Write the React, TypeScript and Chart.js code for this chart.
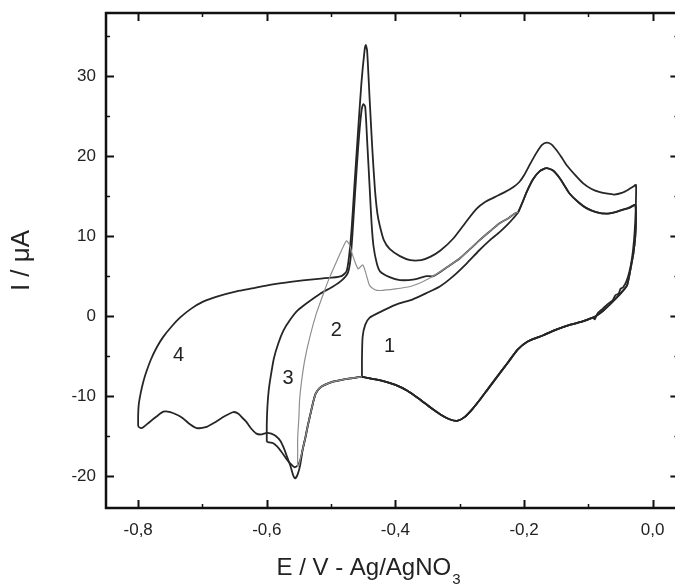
import { useEffect, useRef } from 'react';
import { Chart, registerables } from 'chart.js';

Chart.register(...registerables);

const FONT = '"Liberation Sans", Arial, Helvetica, sans-serif';

type Pt = [number, number];

// ---- data (E in V, I in µA) ----
const curve1Rise: Pt[] = [
  [-0.452, -7.6], [-0.452, -5.3], [-0.451, -2.6], [-0.447, -1.1], [-0.44, -0.2], [-0.424, 0.5],
  [-0.4, 1.4], [-0.373, 2.1], [-0.351, 2.9], [-0.331, 3.7], [-0.31, 5.0], [-0.289, 6.6],
  [-0.27, 8.2], [-0.253, 9.5], [-0.238, 10.5], [-0.225, 11.5], [-0.217, 12.2],
];

const lowerHump: Pt[] = [
  [-0.209, 13.0], [-0.202, 14.3], [-0.196, 15.5], [-0.186, 17.1], [-0.176, 18.1], [-0.165, 18.5],
  [-0.155, 18.2], [-0.145, 17.3], [-0.137, 16.3], [-0.129, 15.3], [-0.115, 14.2], [-0.103, 13.5],
  [-0.088, 13.0], [-0.072, 12.8], [-0.058, 13.0], [-0.046, 13.3], [-0.035, 13.6], [-0.027, 13.9],
];

const lowerDescent: Pt[] = [
  [-0.026, 12.0], [-0.027, 10.0], [-0.03, 7.8], [-0.033, 6.5], [-0.036, 5.2], [-0.04, 3.8],
  [-0.048, 3.0], [-0.056, 2.3], [-0.066, 1.5], [-0.078, 0.6], [-0.088, 0.0],
];

const cathodicSweep: Pt[] = [
  [-0.093, -0.2], [-0.11, -0.7], [-0.129, -1.1], [-0.15, -1.7], [-0.17, -2.4], [-0.195, -3.2],
  [-0.21, -4.2], [-0.225, -5.8], [-0.242, -7.6], [-0.256, -9.1], [-0.269, -10.5], [-0.28, -11.6],
  [-0.292, -12.6], [-0.304, -13.1], [-0.316, -12.9], [-0.33, -12.3], [-0.346, -11.4], [-0.364, -10.3],
  [-0.382, -9.3], [-0.4, -8.6], [-0.42, -8.1], [-0.44, -7.8], [-0.452, -7.6],
];

const depositionDrop: Pt[] = [
  [-0.47, -7.8], [-0.485, -8.0], [-0.497, -8.2], [-0.51, -8.6], [-0.518, -9.0], [-0.524, -9.7],
  [-0.528, -10.8], [-0.532, -12.2], [-0.536, -13.6], [-0.54, -15.2], [-0.544, -16.6],
];

const curve2Loop: Pt[] = [
  [-0.547, -17.6], [-0.55, -18.6], [-0.552, -18.8], [-0.552, -17.0], [-0.552, -15.3], [-0.55, -12.5],
  [-0.549, -10.5], [-0.546, -8.2], [-0.541, -5.5], [-0.533, -2.6], [-0.523, 0.3], [-0.512, 2.8],
  [-0.502, 4.9], [-0.49, 7.1], [-0.481, 8.7], [-0.476, 9.4], [-0.472, 9.0], [-0.468, 8.0],
  [-0.463, 6.8], [-0.458, 5.9], [-0.455, 6.1], [-0.451, 6.4], [-0.448, 5.9], [-0.444, 4.8],
  [-0.44, 3.8], [-0.432, 3.3], [-0.424, 3.2], [-0.4, 3.4], [-0.377, 3.7], [-0.36, 4.2],
];

const middleRise: Pt[] = [
  [-0.341, 5.0], [-0.32, 6.1], [-0.3, 7.2], [-0.285, 8.3], [-0.269, 9.5], [-0.253, 10.6],
  [-0.238, 11.6], [-0.225, 12.2], [-0.215, 12.8], [-0.209, 13.0],
];

const curve3Rise: Pt[] = [
  [-0.6, -15.7], [-0.6, -13.5], [-0.599, -11.3], [-0.597, -9.3], [-0.594, -7.6], [-0.589, -5.3],
  [-0.582, -3.4], [-0.574, -1.8], [-0.564, -0.5], [-0.552, 0.7], [-0.538, 1.6], [-0.517, 2.8],
  [-0.497, 3.7], [-0.483, 4.5], [-0.474, 5.4], [-0.47, 7.0], [-0.467, 10.0], [-0.463, 15.0],
  [-0.458, 21.0], [-0.453, 25.5], [-0.45, 26.5], [-0.447, 26.2], [-0.444, 22.0], [-0.44, 16.0],
  [-0.437, 11.5], [-0.434, 8.7], [-0.429, 6.6], [-0.424, 5.6], [-0.41, 4.9], [-0.393, 4.5],
  [-0.37, 4.6], [-0.352, 5.0],
];

const curve3Bottom: Pt[] = [
  [-0.548, -18.0], [-0.552, -18.7], [-0.557, -18.9], [-0.564, -18.4], [-0.57, -17.8], [-0.577, -17.0],
  [-0.584, -16.3], [-0.59, -15.9], [-0.596, -15.8], [-0.6, -15.7],
];

const curve4Rise: Pt[] = [
  [-0.8, -13.8], [-0.8, -12.4], [-0.799, -11.0], [-0.796, -9.6], [-0.792, -8.2], [-0.787, -6.9],
  [-0.78, -5.4], [-0.771, -3.9], [-0.761, -2.6], [-0.748, -1.3], [-0.735, -0.2], [-0.718, 0.9],
  [-0.699, 1.8], [-0.675, 2.5], [-0.647, 3.1], [-0.62, 3.5], [-0.595, 3.9], [-0.56, 4.3],
  [-0.528, 4.6], [-0.5, 4.8], [-0.484, 5.0], [-0.476, 5.6], [-0.472, 7.5], [-0.468, 11.0],
  [-0.464, 16.0], [-0.459, 22.0], [-0.453, 29.0], [-0.448, 33.2], [-0.446, 33.9], [-0.444, 33.2],
  [-0.44, 27.0], [-0.436, 21.0], [-0.432, 16.0], [-0.428, 12.8], [-0.424, 11.2], [-0.418, 9.5],
  [-0.409, 8.4], [-0.393, 7.5], [-0.377, 7.0], [-0.36, 7.0], [-0.346, 7.4], [-0.33, 8.2],
  [-0.31, 9.7], [-0.29, 11.8], [-0.274, 13.4], [-0.26, 14.3], [-0.245, 14.9], [-0.23, 15.5],
  [-0.217, 16.1], [-0.207, 16.8], [-0.2, 17.6], [-0.19, 19.1], [-0.18, 20.5], [-0.172, 21.4],
  [-0.165, 21.7], [-0.158, 21.5], [-0.15, 20.8], [-0.142, 19.9], [-0.134, 18.9], [-0.12, 17.6],
  [-0.108, 16.6], [-0.095, 15.9], [-0.082, 15.5], [-0.07, 15.3], [-0.06, 15.2], [-0.048, 15.4],
  [-0.038, 15.8], [-0.03, 16.2], [-0.026, 16.4],
];

const upperDescent: Pt[] = [
  [-0.026, 14.5], [-0.027, 12.0], [-0.029, 9.5], [-0.032, 7.3], [-0.036, 5.6], [-0.041, 4.3],
  [-0.046, 3.6], [-0.05, 3.4], [-0.053, 2.8], [-0.058, 2.6], [-0.062, 2.0], [-0.07, 1.5],
  [-0.078, 0.9], [-0.086, 0.3], [-0.09, -0.4],
];

const curve4Bottom: Pt[] = [
  [-0.548, -18.6], [-0.552, -19.8], [-0.556, -20.3], [-0.559, -19.9], [-0.563, -18.8], [-0.568, -17.7],
  [-0.573, -16.6], [-0.579, -15.6], [-0.586, -15.0], [-0.593, -14.7], [-0.6, -14.6], [-0.608, -14.8],
  [-0.616, -14.7], [-0.625, -14.0], [-0.632, -13.2], [-0.637, -12.8], [-0.644, -12.2], [-0.652, -12.0],
  [-0.665, -12.5], [-0.683, -13.4], [-0.695, -13.9], [-0.709, -14.0], [-0.72, -13.5], [-0.73, -12.8],
  [-0.738, -12.4], [-0.75, -12.0], [-0.761, -11.95], [-0.772, -12.6], [-0.783, -13.3], [-0.792, -13.9],
  [-0.796, -14.0], [-0.8, -13.8],
];

const curveNames = ['1', '2', '3', '4'];
const curveLabelE = [-0.409, -0.492, -0.567, -0.737];
const curveLabelI = [-3.8, -1.75, -7.8, -4.9];

const xMajorTicks = [-0.8, -0.6, -0.4, -0.2, 0.0];
const xMinorTicks = [-0.7, -0.5, -0.3, -0.1];
const yMajorTicks = [-20, -10, 0, 10, 20, 30];
const yMinorTicks = [-15, -5, 5, 15, 25, 35];

// assembled cycles
const curve1: Pt[] = [...curve1Rise, ...lowerHump, ...lowerDescent, ...cathodicSweep];
const curve2: Pt[] = [[-0.452, -7.6], ...depositionDrop, ...curve2Loop, ...middleRise];
const curve3: Pt[] = [
  ...curve3Rise, ...middleRise, ...lowerHump, ...lowerDescent, ...cathodicSweep,
  ...depositionDrop, ...curve3Bottom,
];
const curve4: Pt[] = [
  ...curve4Rise, ...upperDescent, ...cathodicSweep, ...depositionDrop, ...curve4Bottom,
];

const toXY = (pts: Pt[]) => pts.map(([x, y]) => ({ x, y }));

const DARK = '#262626';
const GRAY = '#8f8f8f';
const TEXT = '#222';

export default function App() {
  const ref = useRef<HTMLCanvasElement>(null);

  useEffect(() => {
    const canvas = ref.current;
    if (!canvas) return;

    const decor = {
      id: 'decor',
      afterDraw(chart: any) {
        const { ctx, chartArea: a, scales } = chart;
        const xs = scales.x;
        const ys = scales.y;
        ctx.save();
        ctx.strokeStyle = '#111';
        ctx.lineWidth = 2.5;
        ctx.strokeRect(a.left, a.top, a.right - a.left, a.bottom - a.top);

        const tick = (len: number, w: number, xv: number[], yv: number[]) => {
          ctx.lineWidth = w;
          ctx.beginPath();
          xv.forEach((v) => {
            const px = Math.round(xs.getPixelForValue(v)) + 0.5;
            ctx.moveTo(px, a.bottom);
            ctx.lineTo(px, a.bottom - len);
            ctx.moveTo(px, a.top);
            ctx.lineTo(px, a.top + len);
          });
          yv.forEach((v) => {
            const py = Math.round(ys.getPixelForValue(v)) + 0.5;
            ctx.moveTo(a.left, py);
            ctx.lineTo(a.left + len, py);
            ctx.moveTo(a.right, py);
            ctx.lineTo(a.right - len, py);
          });
          ctx.stroke();
        };
        tick(8, 2, xMajorTicks, yMajorTicks);
        tick(4, 1.5, xMinorTicks, yMinorTicks);

        ctx.fillStyle = TEXT;
        ctx.font = `20px ${FONT}`;
        ctx.textAlign = 'center';
        ctx.textBaseline = 'middle';
        curveNames.forEach((n, i) => {
          ctx.fillText(n, xs.getPixelForValue(curveLabelE[i]), ys.getPixelForValue(curveLabelI[i]));
        });

        const main = 'E / V - Ag/AgNO';
        const sub = '3';
        ctx.font = `24px ${FONT}`;
        const w1 = ctx.measureText(main).width;
        ctx.font = `15px ${FONT}`;
        const w2 = ctx.measureText(sub).width;
        const cx = a.left + 262;
        const start = cx - (w1 + w2) / 2;
        const base = a.bottom + 67;
        ctx.textAlign = 'left';
        ctx.textBaseline = 'alphabetic';
        ctx.font = `24px ${FONT}`;
        ctx.fillText(main, start, base);
        ctx.font = `15px ${FONT}`;
        ctx.fillText(sub, start + w1 + 1, base + 9);

        ctx.translate(22, (a.top + a.bottom) / 2);
        ctx.rotate(-Math.PI / 2);
        ctx.font = `26px ${FONT}`;
        ctx.textAlign = 'center';
        ctx.textBaseline = 'middle';
        ctx.fillText('I / \u03bcA', 0, 0);
        ctx.restore();
      },
    };

    const line = (label: string, pts: Pt[], color: string, width: number, order: number) => ({
      label,
      data: toXY(pts),
      showLine: true,
      borderColor: color,
      backgroundColor: color,
      borderWidth: width,
      pointRadius: 0,
      tension: 0.2,
      fill: false,
      order,
    });

    const chart = new Chart(canvas, {
      type: 'scatter',
      data: {
        datasets: [
          line('2', curve2, GRAY, 1.2, 0),
          line('1', curve1, DARK, 1.8, 1),
          line('3', curve3, DARK, 1.8, 1),
          line('4', curve4, DARK, 1.8, 1),
        ],
      },
      options: {
        responsive: false,
        animation: false,
        devicePixelRatio: 1,
        layout: { padding: { top: 13, right: 21.6, left: 0, bottom: 0 } },
        plugins: { legend: { display: false }, tooltip: { enabled: false } },
        scales: {
          x: {
            type: 'linear',
            min: -0.85,
            max: 0.04,
            grid: { display: false, drawTicks: false },
            border: { display: false },
            ticks: {
              padding: 12,
              color: TEXT,
              font: { family: FONT, size: 17 },
              callback: (v: any) => Number(v).toFixed(1).replace('.', ','),
            },
            afterBuildTicks: (s: any) => {
              s.ticks = xMajorTicks.map((value) => ({ value }));
            },
            afterFit: (s: any) => {
              s.height = 78;
              s.paddingLeft = 0;
              s.paddingRight = 0;
            },
          },
          y: {
            type: 'linear',
            min: -24,
            max: 37.9,
            grid: { display: false, drawTicks: false },
            border: { display: false },
            ticks: {
              padding: 10,
              color: TEXT,
              font: { family: FONT, size: 17 },
              callback: (v: any) => String(Math.round(Number(v))),
            },
            afterBuildTicks: (s: any) => {
              s.ticks = yMajorTicks.map((value) => ({ value }));
            },
            afterFit: (s: any) => {
              s.width = 106;
              s.paddingTop = 0;
              s.paddingBottom = 0;
            },
          },
        },
      },
      plugins: [decor],
    } as any);

    return () => chart.destroy();
  }, []);

  return (
    <div
      style={{
        position: 'fixed',
        left: 0,
        top: 0,
        width: 675,
        height: 586,
        overflow: 'hidden',
        background: '#fff',
      }}
    >
      <canvas ref={ref} width={700} height={586} style={{ display: 'block', width: 700, height: 586 }} />
    </div>
  );
}
